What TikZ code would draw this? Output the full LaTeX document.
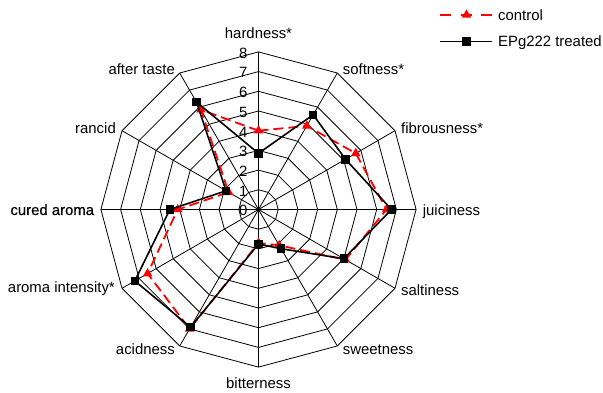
\documentclass[tikz,border=0pt]{standalone}
\usepackage{fontspec}
\setmainfont{Liberation Sans}
\newfontfamily\darkfont[FakeBold=0.45]{Liberation Sans}
\usetikzlibrary{shapes.geometric}
\begin{document}
\begin{tikzpicture}[x=1pt,y=1pt,
  grid/.style={line width=0.8pt, black},
  lbl/.style={font=\fontsize{14.9}{16}\selectfont, inner sep=0pt, text height=10.7pt, text depth=3.1pt},
  ticklbl/.style={font=\fontsize{14.9}{16}\selectfont, inner sep=0pt, anchor=east},
  ctrlline/.style={draw=red, line width=1.8pt, dash pattern=on 10pt off 5pt},
  trtline/.style={draw=black, line width=1.6pt},
  tri/.style={regular polygon, regular polygon sides=3, fill=red, draw=none, minimum size=11pt, inner sep=0pt},
  sq/.style={rectangle, fill=black, draw=none, minimum size=8.5pt, inner sep=0pt},
]
\useasboundingbox (0,0) rectangle (603,393);
\def\u{19.7}
\begin{scope}[shift={(258.5,183.5)}]
  \coordinate (O) at (0,0);
  % rings
  \foreach \r in {1,...,8} {
    \draw[grid] (0:\r*\u) \foreach \a in {30,60,...,330} { -- (\a:\r*\u) } -- cycle;
  }
  % axes
  \foreach \i in {0,...,11} {
    \coordinate (v\i) at ({90-30*\i}:8*\u);
    \draw[grid] (O) -- (v\i);
  }
  % tick labels
  \foreach \k in {0,...,8} {
    \node[ticklbl] (t\k) at (-11,\k*\u-1.2) {\k};
  }
  % control data
  \foreach \v [count=\i from 0] in {4.0,4.9,5.7,6.5,5.1,2.1,1.7,7.0,6.5,4.1,1.75,5.85} {
    \coordinate (c\i) at ({90-30*\i}:\v*\u);
  }
  % treated data
  \foreach \v [count=\i from 0] in {2.85,5.55,5.1,6.75,5.0,2.3,1.75,6.9,7.25,4.5,1.9,6.3} {
    \coordinate (b\i) at ({90-30*\i}:\v*\u);
  }
  \draw[ctrlline] (c0) \foreach \i in {1,...,11} { -- (c\i) } -- cycle;
  \foreach \i in {0,...,11} { \node[tri] (mc\i) at (c\i) {}; }
  \draw[trtline] (b0) \foreach \i in {1,...,11} { -- (b\i) } -- cycle;
  \foreach \i in {0,...,11} { \node[sq] (mb\i) at (b\i) {}; }
\end{scope}
% axis labels
\node[lbl, anchor=center] (L0) at (258.5,357.8) {hardness*};
\node[lbl, anchor=west] (L1) at (342.7,321.8) {softness*};
\node[lbl, anchor=west] (L2) at (401,263.5) {fibrousness*};
\node[lbl, anchor=west] (L3) at (422.7,181.1) {juiciness};
\node[lbl, anchor=west] (L4) at (401,100.8) {saltiness};
\node[lbl, anchor=west] (L5) at (342.7,42.5) {sweetness};
\node[lbl, anchor=center] (L6) at (258.5,8.5) {bitterness};
\node[lbl, anchor=east] (L7) at (175,42.5) {acidness};
\node[lbl, anchor=east] (L8) at (115,104.1) {aroma intensity*};
\node[lbl, anchor=east] (L9) at (94.3,181.8) {\darkfont cured aroma};
\node[lbl, anchor=east] (L10) at (116,263.5) {rancid};
\node[lbl, anchor=east] (L11) at (175,321.8) {after taste};
% legend
\coordinate (la) at (440,378);
\coordinate (lb) at (492,378);
\draw[ctrlline, dash pattern=on 11pt off 9.5pt] (la) -- (lb);
\node[tri] (lt) at (466.5,378) {};
\node[lbl, anchor=west] (lc) at (498,376) {control};
\coordinate (lc1) at (440,351.3);
\coordinate (lc2) at (492,351.3);
\draw[trtline] (lc1) -- (lc2);
\node[sq] (ls) at (466.5,351.3) {};
\node[lbl, anchor=west] (le) at (498,350) {EPg222 treated};
\end{tikzpicture}
\end{document}
